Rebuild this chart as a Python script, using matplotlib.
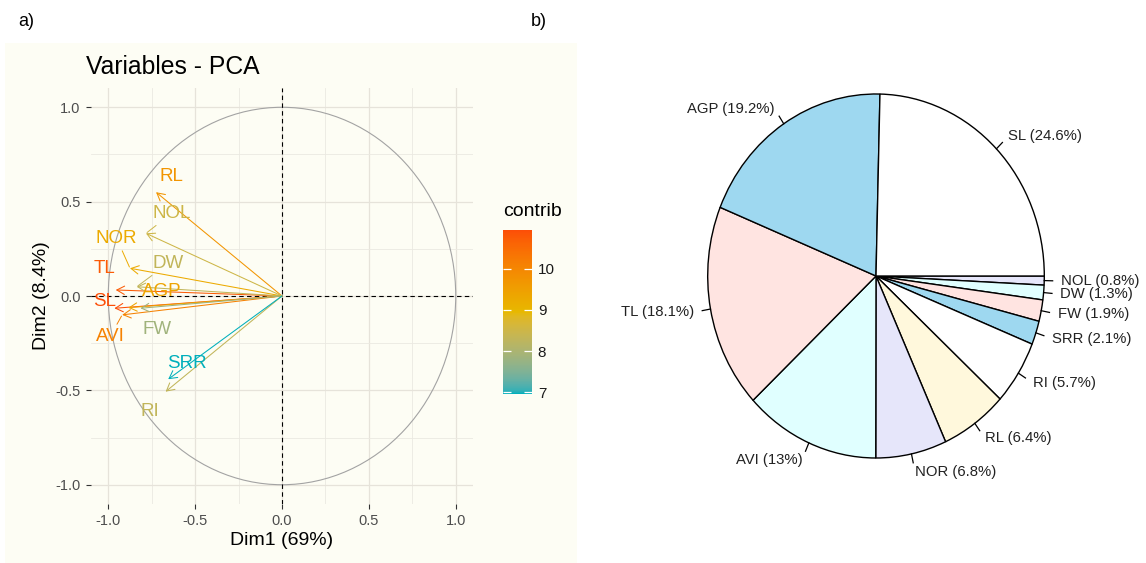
import matplotlib
matplotlib.use("Agg")
import matplotlib.pyplot as plt
import numpy as np
from matplotlib.patches import Rectangle, Circle
from matplotlib.colors import ListedColormap, Normalize, to_rgb
from matplotlib.cm import ScalarMappable

plt.rcParams['font.family'] = ['Liberation Sans', 'DejaVu Sans']

# ---------------- data: PCA variables ----------------
var_names = ['SL', 'TL', 'AVI', 'AGP', 'RL', 'NOR', 'NOL', 'DW', 'RI', 'FW', 'SRR']
dim1 = [-0.965, -0.957, -0.920, -0.885, -0.725, -0.875, -0.783, -0.836, -0.670, -0.815, -0.655]
dim2 = [-0.065, 0.032, -0.100, -0.062, 0.550, 0.147, 0.332, 0.049, -0.507, -0.065, -0.441]
contrib = [10.94, 10.75, 10.10, 9.40, 9.70, 9.25, 8.50, 8.30, 8.30, 7.85, 6.96]
xy_ticks = [-1.0, -0.5, 0.0, 0.5, 1.0]
cb_ticks = [7, 8, 9, 10]

# ---------------- data: pie ----------------
pie_names = ['NOL', 'DW', 'FW', 'SRR', 'RI', 'RL', 'NOR', 'AVI', 'TL', 'AGP', 'SL']
pie_pct = [0.8, 1.3, 1.9, 2.1, 5.7, 6.4, 6.8, 13, 18.1, 19.2, 24.6]

# ---------------- layout (label placement, repel-style) ----------------
label_pos = {
    'RL': (-0.635, 0.632), 'NOL': (-0.635, 0.438), 'NOR': (-0.952, 0.306),
    'TL': (-1.019, 0.147), 'DW': (-0.655, 0.173), 'AGP': (-0.693, 0.023),
    'SL': (-1.019, -0.030), 'FW': (-0.721, -0.180), 'AVI': (-0.990, -0.216),
    'SRR': (-0.549, -0.357), 'RI': (-0.760, -0.613),
}
with_segment = {'NOL', 'NOR', 'DW', 'AVI'}
pie_colors = ['#E6E6FA', '#E0FFFF', '#FFE4E1', '#9ED8F0', '#FFFFFF', '#FFF8DC',
              '#E6E6FA', '#E0FFFF', '#FFE4E1', '#9ED8F0', '#FFFFFF']
gradient_colors = ['#00AFBB', '#E7B800', '#FC4E07']


# ---- Lab-space gradient (as ggplot2's scale_colour_gradientn does) ----
def _srgb_to_lab(rgb):
    c = np.asarray(rgb, float)
    lin = np.where(c <= 0.04045, c / 12.92, ((c + 0.055) / 1.055) ** 2.4)
    M = np.array([[0.4124, 0.3576, 0.1805], [0.2126, 0.7152, 0.0722], [0.0193, 0.1192, 0.9505]])
    xyz = M @ lin / np.array([0.95047, 1.0, 1.08883])
    f = np.where(xyz > (6 / 29) ** 3, np.cbrt(xyz), xyz / (3 * (6 / 29) ** 2) + 4 / 29)
    return np.array([116 * f[1] - 16, 500 * (f[0] - f[1]), 200 * (f[1] - f[2])])


def _lab_to_srgb(lab):
    L, a, b = lab
    fy = (L + 16) / 116
    fx = fy + a / 500
    fz = fy - b / 200
    f = np.array([fx, fy, fz])
    xyz = np.where(f > 6 / 29, f ** 3, 3 * (6 / 29) ** 2 * (f - 4 / 29)) * np.array([0.95047, 1.0, 1.08883])
    Minv = np.array([[3.2406, -1.5372, -0.4986], [-0.9689, 1.8758, 0.0415], [0.0557, -0.2040, 1.0570]])
    lin = Minv @ xyz
    lin = np.clip(lin, 0, 1)
    c = np.where(lin <= 0.0031308, 12.92 * lin, 1.055 * lin ** (1 / 2.4) - 0.055)
    return np.clip(c, 0, 1)


labs = [_srgb_to_lab(to_rgb(c)) for c in gradient_colors]
samples = []
for t in np.linspace(0, 1, 256):
    seg = min(int(t * (len(labs) - 1)), len(labs) - 2)
    u = t * (len(labs) - 1) - seg
    samples.append(_lab_to_srgb((1 - u) * labs[seg] + u * labs[seg + 1]))
cmap = ListedColormap(samples)

W, H = 1146, 563
fig = plt.figure(figsize=(W / 100, H / 100), dpi=100)
fig.patch.set_facecolor('white')

cream = '#FDFDF4'
fig.patches.append(Rectangle((5 / W, 0), (577 - 5) / W, (563 - 43) / H,
                             transform=fig.transFigure, facecolor=cream,
                             edgecolor='none', zorder=-10))

fig.text(18 / W, 1 - 22 / H, 'a)', fontsize=13, va='center', ha='left')
fig.text(531 / W, 1 - 22 / H, 'b)', fontsize=13, va='center', ha='left')

# ---------------- PCA panel ----------------
x0, x1 = 90.9, 473.1
y_top, y_bot = 88.4, 503.6
ax = fig.add_axes([x0 / W, (H - y_bot) / H, (x1 - x0) / W, (y_bot - y_top) / H])
ax.set_zorder(1)
ax.set_facecolor('none')
ax.set_xlim(-1.1, 1.1)
ax.set_ylim(-1.1, 1.1)
for s in ax.spines.values():
    s.set_visible(False)
ax.set_xticks(xy_ticks)
ax.set_yticks(xy_ticks)
ax.set_xticklabels([f'{v:.1f}' for v in xy_ticks])
ax.set_yticklabels([f'{v:.1f}' for v in xy_ticks])
minor = [-0.75, -0.25, 0.25, 0.75]
ax.set_xticks(minor, minor=True)
ax.set_yticks(minor, minor=True)
ax.tick_params(which='major', length=3.5, width=0.8, color='#333333',
               labelcolor='#4D4D4D', labelsize=10.5, pad=4)
ax.tick_params(which='minor', length=0)
ax.grid(which='major', color='#E6E3DA', lw=0.9, zorder=0)
ax.grid(which='minor', color='#EBE9E1', lw=0.6, zorder=0)
ax.set_axisbelow(True)

ax.add_patch(Circle((0, 0), 1.0, fill=False, edgecolor='#A3A3A3', lw=0.8, zorder=1))
ax.axhline(0, color='black', lw=0.8, ls=(0, (4, 3)), zorder=2)
ax.axvline(0, color='black', lw=0.8, ls=(0, (4, 3)), zorder=2)

norm = Normalize(vmin=min(contrib), vmax=max(contrib))

for n, xv, yv, c in zip(var_names, dim1, dim2, contrib):
    col = cmap(norm(c))
    ax.annotate('', xy=(xv, yv), xytext=(0, 0),
                arrowprops=dict(arrowstyle='->,head_length=0.55,head_width=0.3',
                                color=col, lw=0.75, shrinkA=0, shrinkB=0),
                zorder=3)
for n, xv, yv, c in zip(var_names, dim1, dim2, contrib):
    col = cmap(norm(c))
    lx, ly = label_pos[n]
    if n in with_segment:
        ax.annotate(n, xy=(xv, yv), xytext=(lx, ly), fontsize=13.5, color=col,
                    ha='center', va='center', zorder=4,
                    arrowprops=dict(arrowstyle='-', color=col, lw=0.7,
                                    shrinkA=1, shrinkB=1))
    else:
        ax.text(lx, ly, n, fontsize=13.5, color=col, ha='center', va='center', zorder=4)

ax.set_xlabel('Dim1 (69%)', fontsize=14, color='black', labelpad=3)
ax.set_ylabel('Dim2 (8.4%)', fontsize=14, color='black', labelpad=4)
fig.text(86 / W, 1 - 67 / H, 'Variables - PCA', fontsize=17.8, va='center', ha='left')

# colorbar
cax = fig.add_axes([502.7 / W, (H - 394) / H, 29.6 / W, 164 / H])
cax.set_zorder(1)
sm = ScalarMappable(norm=norm, cmap=cmap)
cb = fig.colorbar(sm, cax=cax, ticks=cb_ticks)
cb.outline.set_visible(False)
cax.tick_params(direction='in', color='white', length=6, width=0.9,
                left=True, right=True, labelleft=False, labelright=True,
                labelsize=11, labelcolor='#1A1A1A', pad=4)
fig.text(502.7 / W, 1 - 212 / H, 'contrib', fontsize=14, ha='left', va='center')

# ---------------- Pie panel ----------------
cx, cy, rx, ry = 876, 276, 168.3, 182
axp = fig.add_axes([(cx - 1.5 * rx) / W, (H - (cy + 1.5 * ry)) / H, 3 * rx / W, 3 * ry / H])
wedges, _ = axp.pie(pie_pct, colors=pie_colors, startangle=0, counterclock=False,
                    wedgeprops=dict(edgecolor='black', linewidth=1.0))
axp.set_aspect('auto')
axp.set_xlim(-1.5, 1.5)
axp.set_ylim(-1.5, 1.5)
axp.axis('off')
for w, n, p in zip(wedges, pie_names, pie_pct):
    mid = np.deg2rad((w.theta1 + w.theta2) / 2)
    ca, sa = np.cos(mid), np.sin(mid)
    axp.plot([ca, 1.05 * ca], [sa, 1.05 * sa], color='black', lw=0.9)
    axp.text(1.1 * ca, 1.1 * sa, f'{n} ({p:g}%)', fontsize=10.7, color='#222222',
             ha='left' if ca > 0 else 'right', va='center')

fig.savefig('out.png', dpi=100)
